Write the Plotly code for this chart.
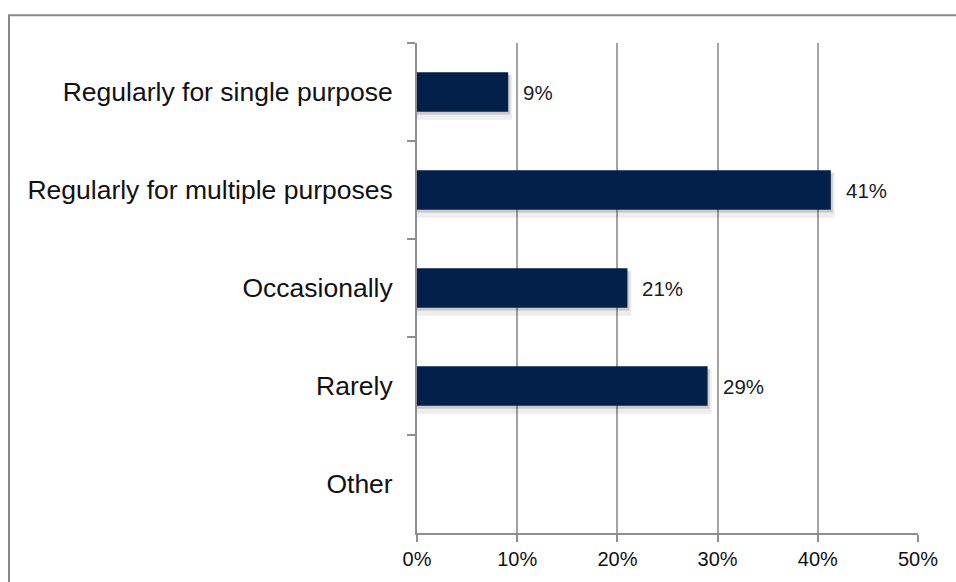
import plotly.graph_objects as go

# Survey responses: how often the tool is used
categories = [
    "Regularly for single purpose",
    "Regularly for multiple purposes",
    "Occasionally",
    "Rarely",
    "Other",
]
shares = [9.1, 41.3, 21.0, 29.0, None]  # percent of respondents
x_ticks = [0, 10, 20, 30, 40, 50]
x_tick_labels = ["0%", "10%", "20%", "30%", "40%", "50%"]

# Figure geometry (pixels)
W, H = 956, 582
M_L, M_R, M_T, M_B = 417, 38, 43, 45
PLOT_W = W - M_L - M_R
PLOT_H = H - M_T - M_B

BAR_W = 0.405
NAVY = "#02204a"
GRID = "#a3a3a3"
AXIS = "#8e8e8e"
FONT = "Liberation Sans, Arial, sans-serif"

px_per_unit_x = PLOT_W / 50.0
px_per_cat = PLOT_H / len(categories)

fig = go.Figure()

# soft drop shadow under each bar (two layers for a blurred edge)
for dx, dy, extra, alpha in [(4, 5, 0.06, 0.07), (2, 3, 0.0, 0.14)]:
    fig.add_trace(go.Bar(
        y=categories,
        x=[None if v is None else v + dx / px_per_unit_x for v in shares],
        orientation="h",
        width=BAR_W + extra,
        offset=-(BAR_W + extra) / 2 + dy / px_per_cat,
        marker=dict(color=f"rgba(0,0,0,{alpha})", line=dict(width=0)),
        hoverinfo="skip",
        showlegend=False,
    ))

# main bars
fig.add_trace(go.Bar(
    y=categories,
    x=shares,
    orientation="h",
    width=BAR_W,
    offset=-BAR_W / 2,
    marker=dict(color=NAVY, line=dict(width=0)),
    showlegend=False,
))

# value labels to the right of each bar
annotations = []
for cat, v in zip(categories, shares):
    if v is None:
        continue
    annotations.append(dict(
        x=v, y=cat, xref="x", yref="y",
        text=f"{v:.0f}%", showarrow=False,
        xanchor="left", yanchor="middle", xshift=13,
        font=dict(family=FONT, size=20.5, color="#1a1a1a"),
    ))

# outer frame around the chart
frame = dict(
    type="rect", xref="paper", yref="paper",
    x0=(9 - M_L) / PLOT_W, x1=(W + 20 - M_L) / PLOT_W,
    y0=(M_T + PLOT_H - (H + 20)) / PLOT_H, y1=(M_T + PLOT_H - 15) / PLOT_H,
    line=dict(color="#888888", width=2), fillcolor="rgba(0,0,0,0)",
    layer="below",
)

fig.update_layout(
    width=W, height=H,
    margin=dict(l=M_L, r=M_R, t=M_T, b=M_B, pad=0),
    paper_bgcolor="white", plot_bgcolor="white",
    barmode="overlay",
    font=dict(family=FONT, color="#111111"),
    annotations=annotations,
    shapes=[frame],
    xaxis=dict(
        range=[0, 50],
        tickmode="array", tickvals=x_ticks, ticktext=x_tick_labels,
        showgrid=True, gridcolor=GRID, gridwidth=2,
        zeroline=False,
        showline=True, linecolor=AXIS, linewidth=2,
        ticks="outside", ticklen=7, tickwidth=2, tickcolor=AXIS,
        tickfont=dict(family=FONT, size=20, color="#111111"),
        fixedrange=True,
    ),
    yaxis=dict(
        categoryorder="array", categoryarray=categories,
        autorange="reversed",
        showgrid=False, zeroline=False,
        showline=True, linecolor=AXIS, linewidth=2,
        ticks="outside", tickson="boundaries", ticklen=8, tickwidth=2, tickcolor=AXIS,
        ticklabelstandoff=17,
        tickfont=dict(family=FONT, size=26.5, color="#111111"),
        fixedrange=True,
    ),
)

fig.write_html("out.html")
